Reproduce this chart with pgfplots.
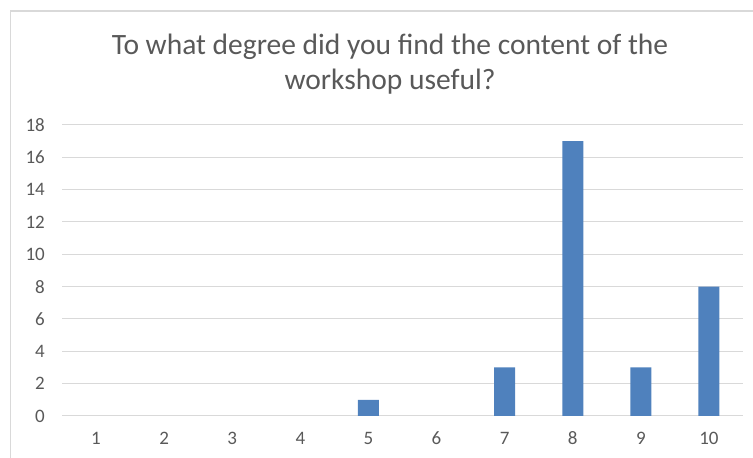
\documentclass[border=0pt]{standalone}
\usepackage{pgfplots}
\pgfplotsset{compat=1.18}
\usepackage{fontspec}
\setmainfont{Carlito}
\definecolor{barblue}{HTML}{4F81BD}
\definecolor{gridgray}{HTML}{D9D9D9}
\definecolor{textgray}{HTML}{595959}
\begin{document}
\begin{tikzpicture}[x=1pt,y=1pt]
\useasboundingbox (0,0) rectangle (753,458);
\draw[gridgray, line width=1.2pt] (10.5,0) -- (10.5,447) -- (753,447);
\node[text=textgray, font=\fontsize{29.5}{35}\selectfont, align=center] at (390,393.5) {To what degree did you find the content of the\\workshop useful?};
\begin{axis}[
  at={(62pt,42pt)}, anchor=south west,
  scale only axis, width=681pt, height=291pt,
  xmin=0.5, xmax=10.5, ymin=0, ymax=18,
  ytick={0,2,...,18},
  xtick={1,...,10},
  axis line style={draw=none},
  major tick length=0pt,
  ymajorgrids, grid style={gridgray, line width=1pt},
  tick label style={text=textgray, font=\fontsize{19}{22}\selectfont},
  /pgf/number format/assume math mode=true,
  yticklabel style={anchor=east, inner sep=0pt, xshift=-17pt},
  xticklabel style={anchor=base, inner sep=0pt, yshift=-29pt},
  ybar, bar width=21pt,
]
% zero counts for 1, 2, 3, 4 and 6 are not drawn
\addplot[fill=barblue, draw=none] coordinates {(5,1) (7,3) (8,17) (9,3) (10,8)};
\end{axis}
\end{tikzpicture}
\end{document}
